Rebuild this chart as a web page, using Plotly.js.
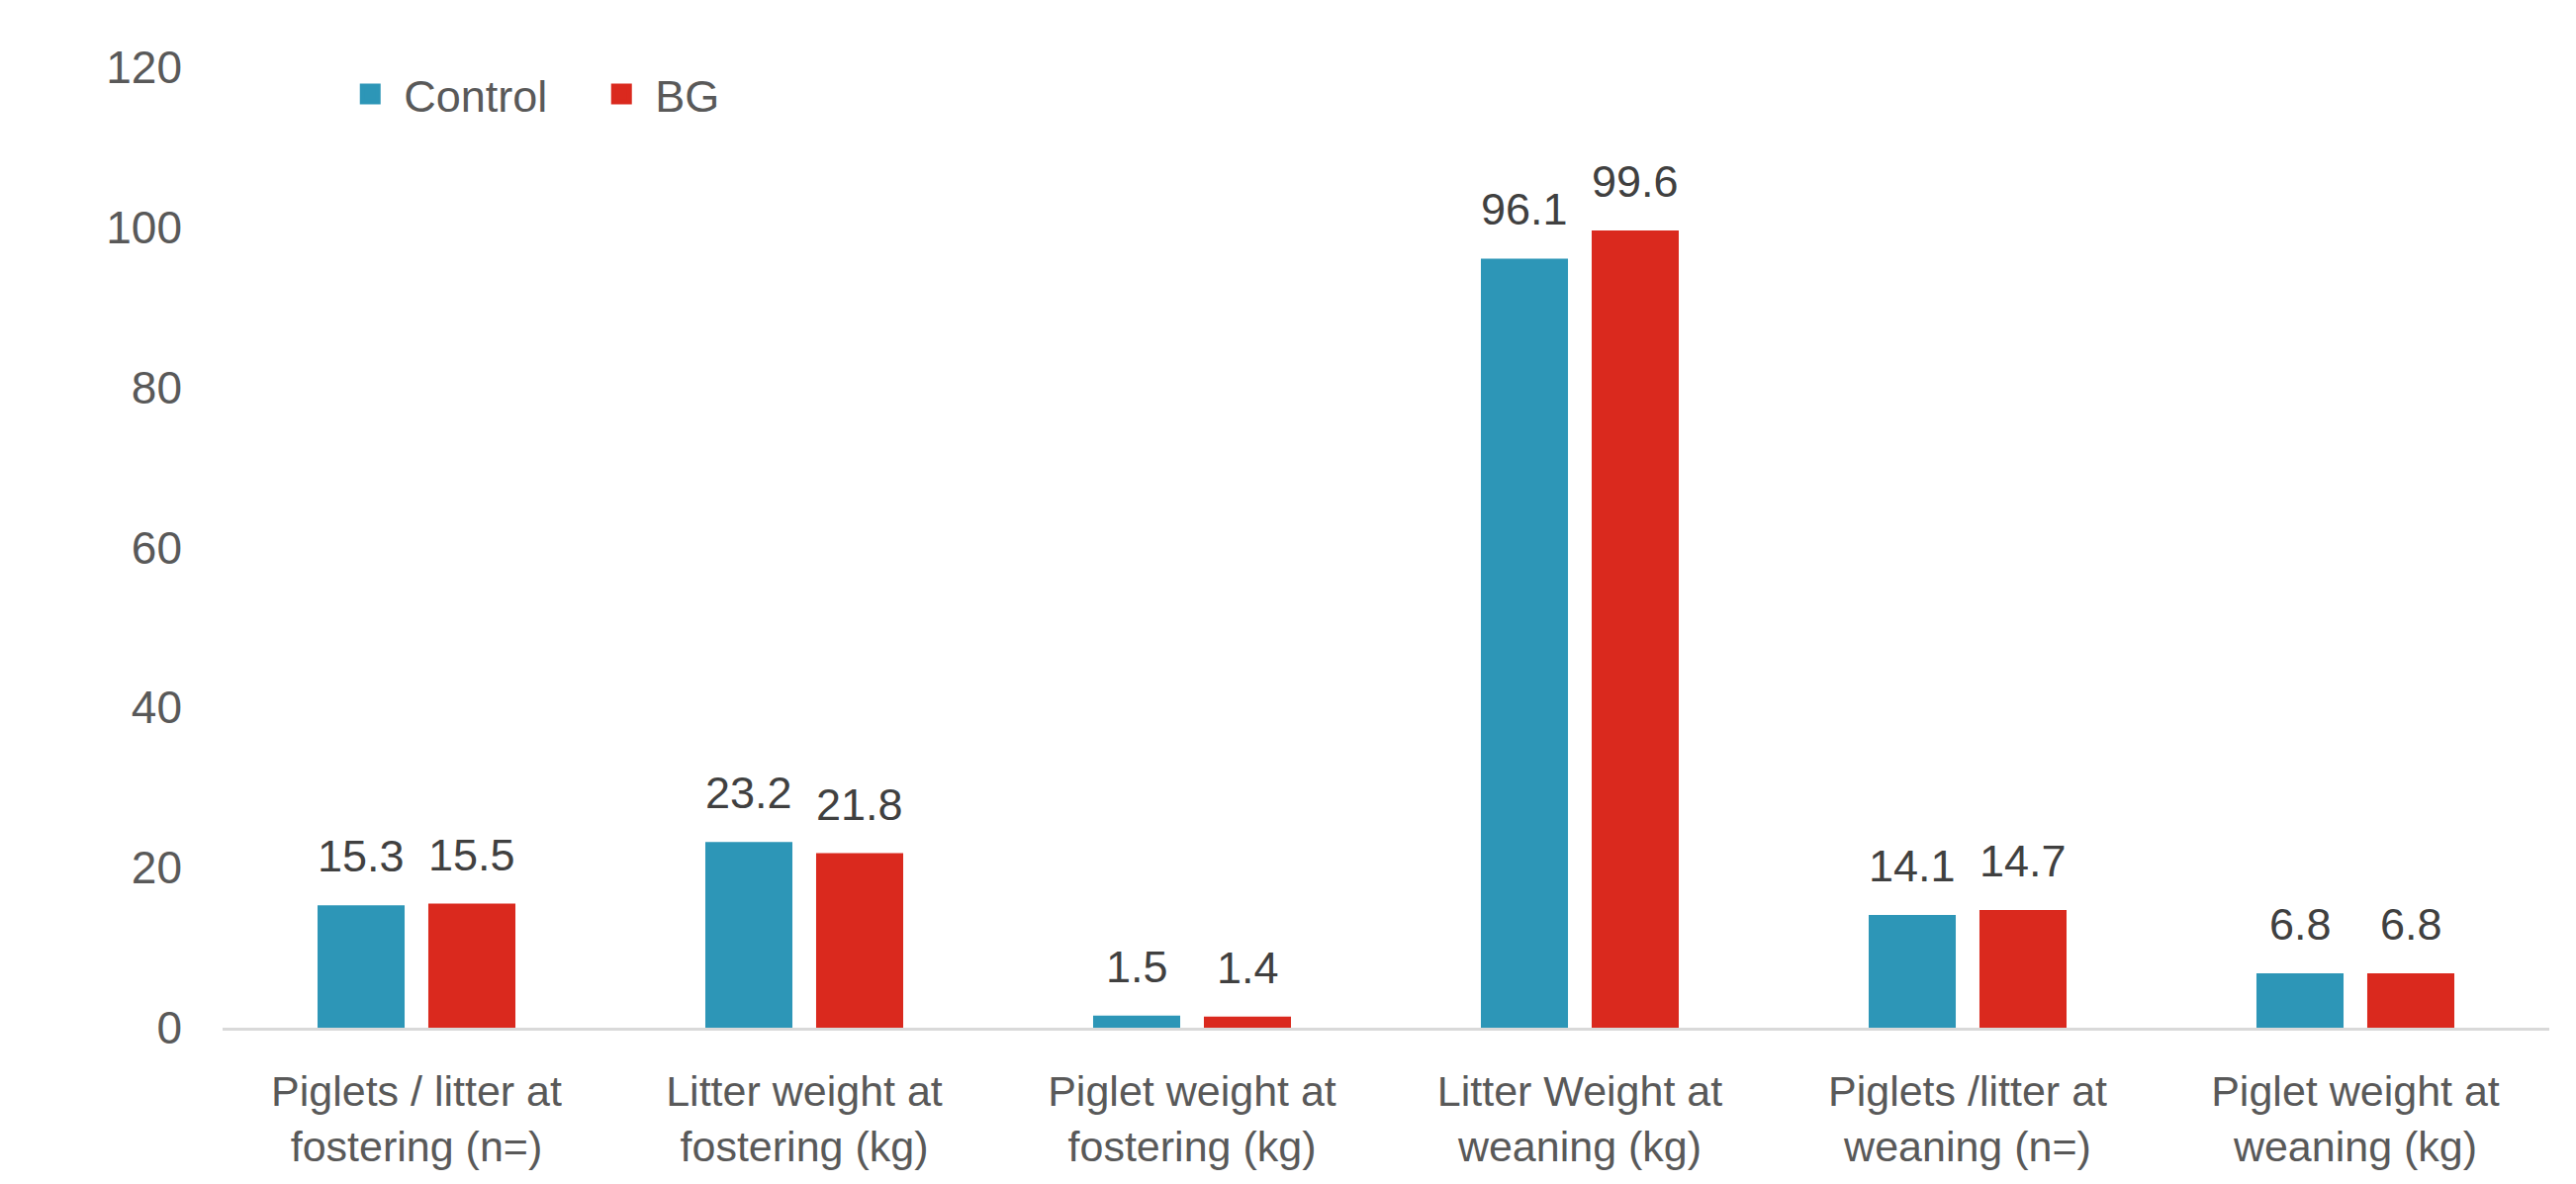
<!DOCTYPE html>
<html>
<head>
<meta charset="utf-8">
<script src="https://cdn.plot.ly/plotly-3.0.1.min.js"></script>
<style>
  html, body { margin: 0; padding: 0; background: #ffffff; }
  #chart { width: 2604px; height: 1197px; }
</style>
</head>
<body>
<div id="chart"></div>
<script>
const categories = [
  "Piglets / litter at<br>fostering (n=)",
  "Litter weight at<br>fostering (kg)",
  "Piglet weight at<br>fostering (kg)",
  "Litter Weight at<br>weaning (kg)",
  "Piglets /litter at<br>weaning (n=)",
  "Piglet weight at<br>weaning (kg)"
];
const controlValues = [15.3, 23.2, 1.5, 96.1, 14.1, 6.8];
const bgValues = [15.5, 21.8, 1.4, 99.6, 14.7, 6.8];
const seriesNames = ["Control", "BG"];
const yTicks = [0, 20, 40, 60, 80, 100, 120];

const FONT = '"Liberation Sans", Arial, sans-serif';
const BLUE = '#2D96B7';
const RED = '#DA291E';
const LABEL_COLOR = '#404040';

const traces = [
  {
    type: 'bar', name: seriesNames[0], x: categories, y: controlValues,
    marker: { color: BLUE }, showlegend: false, hoverinfo: 'x+y'
  },
  {
    type: 'bar', name: seriesNames[1], x: categories, y: bgValues,
    marker: { color: RED }, showlegend: false, hoverinfo: 'x+y'
  },
  {
    type: 'scatter', mode: 'markers', name: seriesNames[0],
    x: [categories[0]], y: [null],
    marker: { symbol: 'square', size: 16, color: BLUE, line: { color: BLUE, width: 5 } },
    showlegend: true, hoverinfo: 'skip'
  },
  {
    type: 'scatter', mode: 'markers', name: seriesNames[1],
    x: [categories[0]], y: [null],
    marker: { symbol: 'square', size: 16, color: RED, line: { color: RED, width: 5 } },
    showlegend: true, hoverinfo: 'skip'
  }
];

// value labels above each bar, placed through the axes (offset to each bar's slot)
const SLOT_SHIFT = 56;
const annotations = [];
categories.forEach((c, i) => {
  annotations.push({
    x: c, y: controlValues[i], xref: 'x', yref: 'y', xshift: -SLOT_SHIFT, yshift: 22,
    text: controlValues[i].toFixed(1), showarrow: false, xanchor: 'center', yanchor: 'bottom',
    font: { family: FONT, size: 45, color: LABEL_COLOR }
  });
  annotations.push({
    x: c, y: bgValues[i], xref: 'x', yref: 'y', xshift: SLOT_SHIFT, yshift: 22,
    text: bgValues[i].toFixed(1), showarrow: false, xanchor: 'center', yanchor: 'bottom',
    font: { family: FONT, size: 45, color: LABEL_COLOR }
  });
});

const layout = {
  width: 2604, height: 1197,
  paper_bgcolor: '#ffffff', plot_bgcolor: '#ffffff',
  margin: { l: 225, r: 27, t: 68, b: 158, pad: 0 },
  font: { family: FONT, size: 46, color: '#595959' },
  barmode: 'group', bargap: 0.4286, bargroupgap: 0.214,
  showlegend: true,
  legend: {
    orientation: 'h', x: 0.049, xanchor: 'left', y: 0.972, yanchor: 'middle',
    font: { family: FONT, size: 45, color: '#595959' },
    itemwidth: 58,
    entrywidth: 181, entrywidthmode: 'pixels', itemsizing: 'trace',
    bgcolor: 'rgba(0,0,0,0)', borderwidth: 0, tracegroupgap: 0
  },
  annotations: annotations,
  xaxis: {
    type: 'category', showgrid: false, zeroline: false,
    showline: true, linecolor: '#D9D9D9', linewidth: 3,
    ticks: '', ticklabelstandoff: 24,
    tickfont: { family: FONT, size: 43, color: '#595959' }
  },
  yaxis: {
    range: [0, 120], tickvals: yTicks, ticktext: yTicks.map(String),
    showgrid: false, zeroline: false, showline: false, ticks: '',
    ticklabelstandoff: 40,
    tickfont: { family: FONT, size: 46, color: '#595959' }
  }
};

Plotly.newPlot('chart', traces, layout, { displayModeBar: false, staticPlot: true });
</script>
</body>
</html>
